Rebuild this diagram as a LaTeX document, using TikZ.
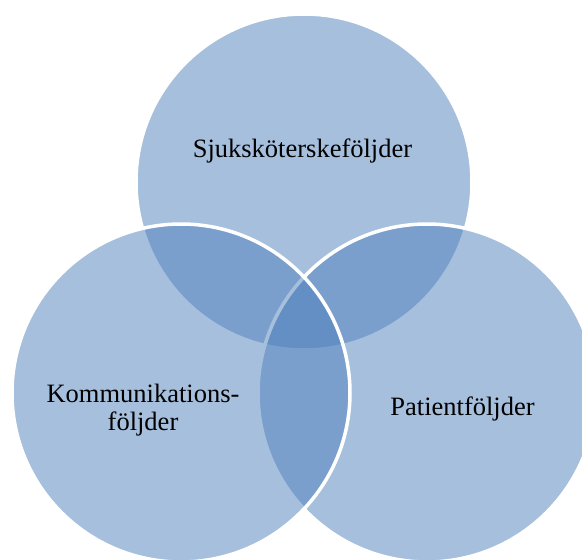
\documentclass[tikz,border=0pt]{standalone}
\usepackage{fontspec}
\setmainfont{Liberation Serif}
\definecolor{venn}{HTML}{4F81BD}
\begin{document}
\begin{tikzpicture}[x=1pt,y=-1pt,
  vcircle/.style={fill=venn,fill opacity=0.5,draw=white,draw opacity=1,line width=3.5pt},
  vlabel/.style={font=\fontsize{26.5}{28}\selectfont,text=black,inner sep=0pt,align=center}]
\useasboundingbox (0,0) rectangle (582,560);
\clip (0,0) rectangle (582,560);
\fill[white] (0,0) rectangle (582,560);
\draw[vcircle] (304,182) circle[radius=168];
\draw[vcircle] (427,393) circle[radius=169];
\draw[vcircle] (181,393) circle[radius=169];
\node[vlabel,anchor=base] (top) at (302.5,157) {Sjuksköterskeföljder};
\node[vlabel,anchor=base] (right) at (462.5,415) {Patientföljder};
\node[vlabel,anchor=center] (left) at (143,410) {Kommunikations-\\följder};
\end{tikzpicture}
\end{document}
